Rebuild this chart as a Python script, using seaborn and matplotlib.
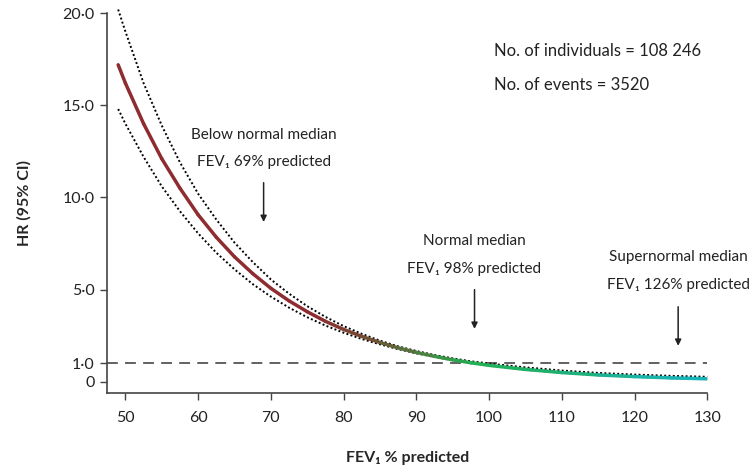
import numpy as np
import matplotlib
matplotlib.use("Agg")
import matplotlib.pyplot as plt
import seaborn as sns
from matplotlib.collections import LineCollection
from matplotlib.colors import LinearSegmentedColormap

# FEV1 % predicted and hazard ratio curve with 95% CI
fev = [49, 50, 52.5, 55, 57.5, 60, 62.5, 65, 67.5, 70, 72.5, 75, 77.5, 80, 82.5, 85,
       87.5, 90, 92.5, 95, 97.5, 100, 105, 110, 115, 120, 125, 130]
hr = [17.2, 16.2, 14.0, 12.1, 10.5, 9.06, 7.84, 6.78, 5.87, 5.07, 4.39, 3.80, 3.28, 2.84, 2.46, 2.13,
      1.84, 1.59, 1.38, 1.19, 1.03, 0.89, 0.67, 0.50, 0.37, 0.28, 0.21, 0.16]
hr_upper = [20.2, 19.0, 16.2, 13.9, 11.9, 10.2, 8.8, 7.55, 6.5, 5.55, 4.78, 4.1, 3.52, 3.02, 2.6, 2.23,
            1.92, 1.67, 1.45, 1.27, 1.11, 0.99, 0.78, 0.61, 0.48, 0.39, 0.32, 0.27]
hr_lower = [14.8, 14.0, 12.2, 10.6, 9.25, 8.05, 7.0, 6.1, 5.3, 4.62, 4.02, 3.5, 3.05, 2.66, 2.32, 2.03,
            1.77, 1.54, 1.35, 1.17, 1.025, 0.88, 0.655, 0.485, 0.355, 0.265, 0.195, 0.145]

medians = [69, 98, 126]
median_names = ["Below normal median", "Normal median", "Supernormal median"]

yticks = [0, 1, 5, 10, 15, 20]
ytick_labels = ["0", "1·0", "5·0", "10·0", "15·0", "20·0"]
xticks = [50, 60, 70, 80, 90, 100, 110, 120, 130]

sns.set_theme(style="ticks")
plt.rcParams['font.family'] = ['Lato', 'DejaVu Sans']

fig = plt.figure(figsize=(7.5, 4.71), dpi=100)
ax = fig.add_axes([0.143, 0.166, 0.8, 0.806])

# reference line at HR = 1
ax.axhline(1, color="#555555", lw=1.3, ls=(0, (6, 4)), zorder=1)

# confidence limits
for band in (hr_upper, hr_lower):
    sns.lineplot(x=fev, y=band, ax=ax, color="black", lw=1.4, ls=(0, (1, 1.2)),
                 zorder=2, clip_on=False)

# central curve with colour gradient, drawn over the CI dots
cmap = LinearSegmentedColormap.from_list("hr", [
    (0.0, "#8e2c30"), (0.34, "#8e2c30"), (0.44, "#6e5535"), (0.52, "#4b8240"),
    (0.6, "#22b052"), (0.75, "#20b070"), (0.9, "#1ab4a8"), (1.0, "#18b4bc")])
pts = np.column_stack([fev, hr]).reshape(-1, 1, 2)
segs = np.concatenate([pts[:-1], pts[1:]], axis=1)
mids = (np.array(fev[:-1]) + np.array(fev[1:])) / 2
lc = LineCollection(segs, cmap=cmap, norm=plt.Normalize(49, 130), linewidths=2.5,
                    capstyle="round", zorder=3)
lc.set_array(mids)
ax.add_collection(lc)

# median annotations
label_y = [(13.4, 11.9, 10.8, 8.67), (7.64, 6.12, 5.0, 2.87), (6.78, 5.26, 4.07, 1.95)]
for m, name, (y1, y2, yt, yh) in zip(medians, median_names, label_y):
    ax.text(m, y1, name, ha="center", va="center", fontsize=11, color="#222222")
    ax.text(m, y2, f"FEV\u2081 {m}% predicted", ha="center", va="center", fontsize=11,
            color="#222222")
    ax.annotate("", xy=(m, yh), xytext=(m, yt),
                arrowprops=dict(arrowstyle="-|>", color="#222222", lw=1.1,
                                mutation_scale=9, shrinkA=0, shrinkB=0))

ax.text(0.645, 0.9, "No. of individuals = 108 246", transform=ax.transAxes,
        ha="left", va="center", fontsize=12, color="#222222")
ax.text(0.645, 0.81, "No. of events = 3520", transform=ax.transAxes,
        ha="left", va="center", fontsize=12, color="#222222")

ax.set_xlim(47.5, 130)
ax.set_ylim(-0.6, 20)
ax.set_xticks(xticks)
ax.set_yticks(yticks)
ax.set_yticklabels(ytick_labels)
ax.tick_params(axis="both", length=5, width=1, color="#444444", labelsize=11.5,
               labelcolor="#222222")
ax.tick_params(axis="x", pad=8)
ax.tick_params(axis="y", pad=4)
for s in ("left", "bottom"):
    ax.spines[s].set_color("#444444")
    ax.spines[s].set_linewidth(1.2)
sns.despine(ax=ax)

ax.set_xlabel("FEV\u2081 % predicted", fontsize=11.5, fontweight="bold", labelpad=19)
ax.set_ylabel("HR (95% CI)", fontsize=11.5, fontweight="bold", labelpad=22)

fig.savefig("out.png", dpi=100)
